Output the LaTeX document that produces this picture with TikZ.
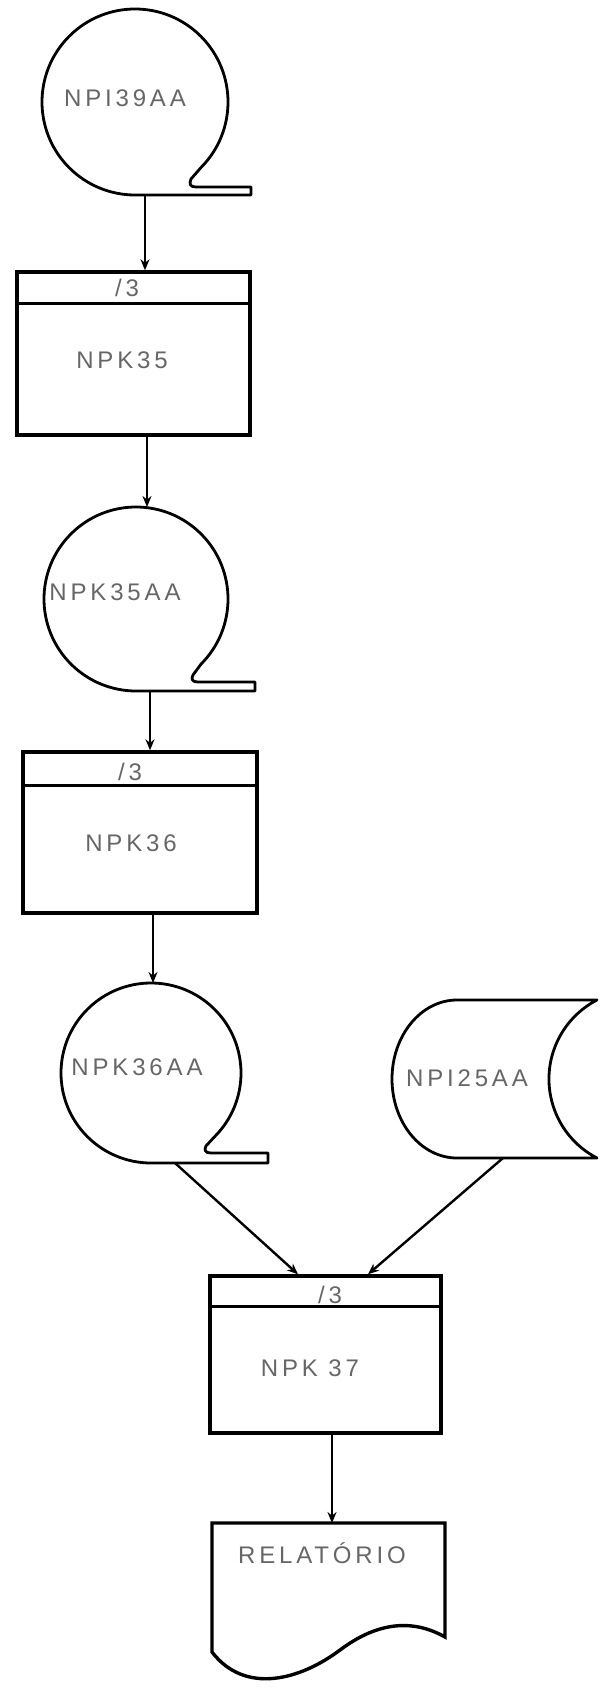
\documentclass[tikz,border=0pt]{standalone}
\usepackage{fontspec}
\setmainfont{Liberation Sans}
\usetikzlibrary{arrows.meta,calc}
\tikzset{
  heavy/.style={draw=black, line width=3.4pt, line join=miter},
  box/.style={heavy, rectangle, inner sep=0pt},
  reel/.style={draw=black, line width=2.8pt, line join=round},
  anchorshape/.style={draw=none, inner sep=0pt, outer sep=0pt},
  flow/.style={draw=black, line width=2.4pt, -{Stealth[length=11pt,width=9pt]}},
  lbl/.style={text=black!60, inner sep=0pt,
    font=\fontsize{24}{28}\selectfont\addfontfeature{LetterSpace=16}},
}
\begin{document}
\begin{tikzpicture}[x=1pt,y=1pt]
\useasboundingbox (0,0) rectangle (607,-1696);

% ---------- tape reel NPI39AA ----------
\node[anchorshape, circle, minimum size=186pt] (t1) at (135,-102) {};
\draw[reel] (t1.-45) arc[start angle=-45,end angle=270,radius=93]
  -- (251,-195) -- (251,-187) -- (196,-187)
  .. controls (190,-187) and (189,-184) .. (191,-179) -- cycle;
\node[lbl] (l1) at (125,-98) {NPI39AA};

% ---------- process NPK35 ----------
\node[box, minimum width=233pt, minimum height=163pt] (p1) at (133.5,-353.5) {};
\draw[heavy] ($(p1.north west)+(0,-33)$) -- ($(p1.north east)+(0,-33)$);
\node[lbl] (h1) at (127,-288) {/3};
\node[lbl] (l2) at (122,-360) {NPK35};

% ---------- tape reel NPK35AA ----------
\node[anchorshape, circle, minimum size=184pt] (t2) at (136,-599) {};
\draw[reel] (t2.-45) arc[start angle=-45,end angle=270,radius=92]
  -- (255,-691) -- (255,-682) -- (198,-682)
  .. controls (192,-682) and (191,-679) .. (193,-675) -- cycle;
\node[lbl] (l3) at (115,-592) {NPK35AA};

% ---------- process NPK36 ----------
\node[box, minimum width=234pt, minimum height=161pt] (p2) at (140,-832.5) {};
\draw[heavy] ($(p2.north west)+(0,-35)$) -- ($(p2.north east)+(0,-35)$);
\node[lbl] (h2) at (130,-772) {/3};
\node[lbl] (l4) at (131,-843) {NPK36};

% ---------- tape reel NPK36AA ----------
\node[anchorshape, circle, minimum size=180pt] (t3) at (151,-1073) {};
\draw[reel] (t3.-45) arc[start angle=-45,end angle=270,radius=90]
  -- (268,-1163) -- (268,-1153) -- (211,-1153)
  .. controls (205,-1153) and (204,-1150) .. (206,-1146) -- cycle;
\node[lbl] (l5) at (137,-1067) {NPK36AA};

% ---------- stored data NPI25AA ----------
\node[anchorshape, rectangle, minimum width=206pt, minimum height=158pt] (s1) at (495,-1079) {};
\draw[reel] (597,-1000) -- (457,-1000)
  arc[start angle=90,end angle=270,x radius=65,y radius=79]
  -- (597,-1158) arc[start angle=242.6,end angle=117.4,radius=89] -- cycle;
\node[lbl] (l6) at (467,-1078) {NPI25AA};

% ---------- process NPK 37 ----------
\node[box, minimum width=231pt, minimum height=157pt] (p3) at (325.5,-1354.5) {};
\draw[heavy] ($(p3.north west)+(0,-32)$) -- ($(p3.north east)+(0,-32)$);
\node[lbl] (h3) at (330,-1295) {/3};
\node[lbl] (l7) at (310,-1368) {NPK 37};

% ---------- document RELATÓRIO ----------
\node[anchorshape, rectangle, minimum width=233pt, minimum height=129pt] (d1) at (328.5,-1587.5) {};
\draw[heavy] (212,-1652) -- (212,-1523) -- (445,-1523) -- (445,-1637)
  .. controls (415,-1620) and (380,-1620) .. (340,-1650)
  .. controls (300,-1680) and (245,-1695) .. (212,-1652) -- cycle;
\node[lbl] (l8) at (322,-1553) {RELATÓRIO};

% ---------- connectors ----------
\draw[flow] ([xshift=10pt]t1.south) -- ([xshift=11.5pt]p1.north);
\draw[flow] ([xshift=13.5pt]p1.south) -- ([xshift=11pt]t2.north);
\draw[flow] ([xshift=14pt]t2.south) -- ([xshift=10pt]p2.north);
\draw[flow] ([xshift=13pt]p2.south) -- ([xshift=2pt]t3.north);
\draw[flow] ([xshift=24pt]t3.south) -- ([xshift=-27.5pt]p3.north);
\draw[flow] ([xshift=8pt]s1.south) -- ([xshift=42.5pt]p3.north);
\draw[flow] ([xshift=6.5pt]p3.south) -- ([xshift=3.5pt]d1.north);
\end{tikzpicture}
\end{document}
